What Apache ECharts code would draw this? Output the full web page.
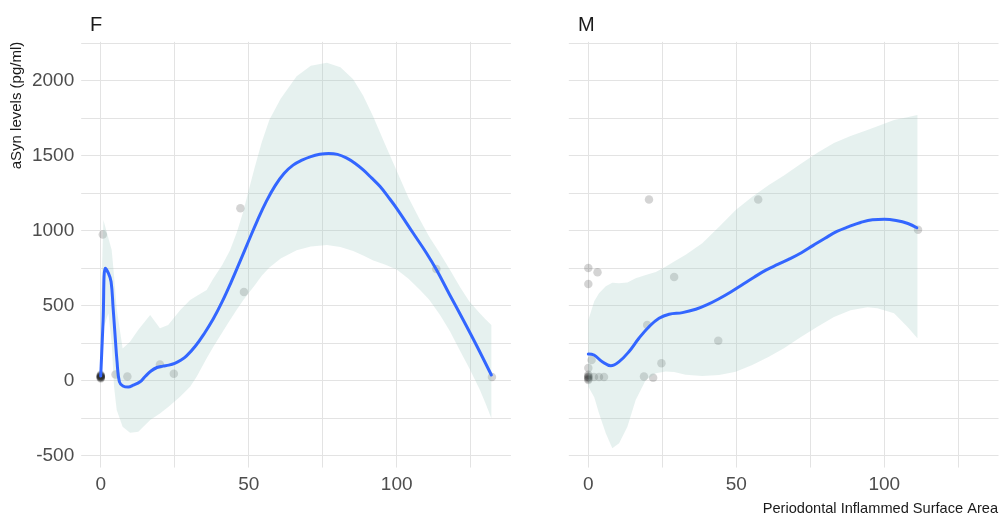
<!DOCTYPE html>
<html><head><meta charset="utf-8">
<script src="https://cdn.jsdelivr.net/npm/echarts@6/dist/echarts.min.js"></script>
<style>html,body{margin:0;padding:0;background:#fff}#c{width:1001px;height:520px}</style>
</head><body><div id="c"></div>
<script>
// ---------- ticks ----------
const xTickLabels = [0, 50, 100];
const xGridValues = [0, 25, 50, 75, 100, 125];
const yTickLabels = [-500, 0, 500, 1000, 1500, 2000];
const yGridValues = [-500, -250, 0, 250, 500, 750, 1000, 1250, 1500, 1750, 2000, 2250];
const panelNames = ['F', 'M'];
const xTitle = 'Periodontal Inflammed Surface Area';
const yTitle = 'aSyn levels (pg/ml)';

// ---------- panel F ----------
const fPointX = [0, 0, 0, 0, 0, 0, 0, 0, 0, 0.7, 5, 9, 20, 24.7, 47.2, 48.4, 113.4, 132.2];
const fPointY = [15, 20, 22, 25, 28, 30, 32, 35, 40, 975, 42, 28, 108, 47, 1149, 591, 744, 25];
const fLineX = [0, 0.8, 1.5, 2.5, 3.5, 4.2, 4.8, 5.5, 6.3, 7.5, 9.3, 11, 13.3, 15, 17, 19, 21, 23, 25, 27, 29, 32, 35, 38, 41, 44, 47, 50, 53, 56, 59, 62, 65, 68, 71, 74, 77, 80, 83, 86, 88.7, 91.5, 94.4, 97.2, 100, 105.6, 110.1, 113.5, 118, 122.5, 127, 132];
const fLineY = [31, 400, 749, 720, 660, 480, 316, 130, -7, -35, -42, -30, -7, 28, 65, 88, 97, 104, 116, 136, 165, 231, 315, 411, 525, 654, 792, 933, 1071, 1197, 1302, 1383, 1437, 1470, 1494, 1509, 1515, 1509, 1485, 1448, 1405, 1352, 1294, 1224, 1149, 983, 850, 738, 570, 405, 235, 38];
const fBandX = [0, 0.9, 2.6, 3.7, 4.5, 5.4, 7.4, 9.9, 12.7, 16.7, 20, 22.8, 26.8, 30.2, 32.4, 35.8, 38, 41, 43.7, 46, 48.2, 50, 52, 54.4, 57, 60.8, 66.2, 71, 76.4, 81, 85.3, 88.7, 92.1, 96, 100, 104, 107.9, 111, 114.6, 118, 121.4, 124.5, 128.1, 130, 132];
const fBandHi = [450, 1071, 950, 871, 700, 480, 215, 260, 340, 438, 349, 371, 470, 538, 565, 605, 680, 770, 870, 990, 1130, 1270, 1420, 1590, 1740, 1880, 2030, 2100, 2120, 2090, 2010, 1900, 1760, 1580, 1400, 1220, 1071, 960, 849, 740, 625, 530, 449, 410, 372];
const fBandLo = [-20, 350, 450, 250, -40, -195, -307, -347, -340, -262, -218, -175, -107, -40, 27, 150, 225, 320, 405, 475, 538, 585, 635, 700, 755, 815, 870, 895, 905, 892, 865, 835, 802, 775, 742, 680, 605, 540, 440, 330, 200, 85, -60, -150, -251];

// ---------- panel M ----------
const mPointX = [0, 0, 0, 0, 0, 0, 1.9, 3.6, 5.3, 0, 3.1, 0, 29, 19.9, 43.9, 24.7, 1.1, 0, 18.8, 21.9, 20.5, 57.4, 111.4];
const mPointY = [5, 12, 20, 25, 30, 40, 25, 25, 25, 752, 723, 645, 692, 371, 267, 117, 138, 84, 28, 20, 1208, 1208, 1007];
const mLineX = [0, 1.9, 4.7, 7.6, 10.4, 13.7, 17.1, 20.5, 23.9, 27.3, 31.8, 36.3, 40, 44, 48, 52, 56, 60, 64, 68, 72, 76, 80, 84, 88, 92, 96, 100, 104, 108, 111];
const mLineY = [178, 171, 127, 100, 127, 193, 283, 360, 416, 443, 454, 476, 505, 545, 590, 640, 690, 737, 775, 812, 853, 902, 950, 995, 1027, 1055, 1073, 1076, 1068, 1048, 1020];
const mBandX = [0, 2, 3.6, 5.9, 8.1, 10.4, 13.2, 16, 19.4, 22.8, 26.1, 29, 32.9, 38.5, 44.2, 49.8, 55.4, 61, 66.1, 71.7, 77.4, 83, 88.6, 94.3, 97.7, 103.3, 107.8, 111.2];
const mBandHi = [405, 530, 583, 630, 653, 650, 655, 683, 705, 725, 760, 795, 840, 916, 1027, 1138, 1227, 1305, 1368, 1445, 1520, 1585, 1632, 1671, 1696, 1738, 1757, 1771];
const mBandLo = [-40, -110, -217, -351, -451, -417, -307, -129, 5, 49, 62, 58, 40, 31, 38, 60, 105, 160, 216, 290, 360, 425, 470, 489, 483, 449, 360, 283];

const SANS = "'Liberation Sans', Arial, Helvetica, sans-serif";
const gridColor = '#e3e3e3';
const bandColor = 'rgba(160, 200, 195, 0.26)';
const lineColor = '#3366FF';

const zip = (a, b) => a.map((v, i) => [v, b[i]]);

function bandSeries(idx, xs, lo, hi) {
  const data = xs.map((x, i) => [x, lo[i], hi[i]]);
  return {
    type: 'custom', xAxisIndex: idx, yAxisIndex: idx, silent: true, z: 3, clip: true,
    data: data, encode: { x: 0, y: [1, 2] },
    renderItem: function (params, api) {
      if (params.dataIndex !== 0) return null;
      const up = data.map(d => api.coord([d[0], d[2]]));
      const dn = data.map(d => api.coord([d[0], d[1]])).reverse();
      return { type: 'polygon', shape: { points: up.concat(dn) }, style: { fill: bandColor } };
    }
  };
}
function pointSeries(idx, xs, ys) {
  return { type: 'scatter', xAxisIndex: idx, yAxisIndex: idx, z: 2, silent: true,
    symbol: 'circle', symbolSize: 8.5, data: zip(xs, ys),
    itemStyle: { color: 'rgba(0,0,0,0.21)' } };
}
function lineSeries(idx, xs, ys) {
  return { type: 'line', xAxisIndex: idx, yAxisIndex: idx, z: 4, silent: true,
    showSymbol: false, smooth: 0.4, data: zip(xs, ys),
    lineStyle: { color: lineColor, width: 3, cap: 'round', join: 'round' } };
}

const grids = [
  { left: 81.2, top: 41.85, width: 429.7, height: 425.7 },
  { left: 568.8, top: 41.85, width: 429.7, height: 425.7 }
];
const xAxes = [0, 1].map(i => ({
  gridIndex: i, type: 'value', min: -6.6, max: 138.6,
  axisLine: { show: false },
  axisTick: { show: false, customValues: xGridValues },
  axisLabel: { customValues: xTickLabels, formatter: v => String(v), color: '#4d4d4d', fontSize: 19, fontFamily: SANS, margin: 8 },
  splitLine: { show: true, lineStyle: { color: gridColor, width: 1 } }
}));
const yAxes = [0, 1].map(i => ({
  gridIndex: i, type: 'value', min: -579, max: 2259,
  axisLine: { show: false },
  axisTick: { show: false, customValues: yGridValues },
  axisLabel: { show: i === 0, customValues: yTickLabels, formatter: v => String(v), color: '#4d4d4d', fontSize: 19, fontFamily: SANS, margin: 7 },
  splitLine: { show: true, lineStyle: { color: gridColor, width: 1 } }
}));

const chart = echarts.init(document.getElementById('c'), null, { renderer: 'canvas' });
chart.setOption({
  animation: false,
  backgroundColor: '#ffffff',
  grid: grids,
  xAxis: xAxes,
  yAxis: yAxes,
  series: [
    pointSeries(0, fPointX, fPointY),
    bandSeries(0, fBandX, fBandLo, fBandHi),
    lineSeries(0, fLineX, fLineY),
    pointSeries(1, mPointX, mPointY),
    bandSeries(1, mBandX, mBandLo, mBandHi),
    lineSeries(1, mLineX, mLineY)
  ],
  graphic: [
    { type: 'text', x: 90, y: 25, style: { text: panelNames[0], fontSize: 20, fontFamily: SANS, fill: '#1a1a1a', verticalAlign: 'middle' } },
    { type: 'text', x: 578, y: 25, style: { text: panelNames[1], fontSize: 20, fontFamily: SANS, fill: '#1a1a1a', verticalAlign: 'middle' } },
    { type: 'text', x: 17, y: 105.5, rotation: Math.PI / 2,
      style: { text: yTitle, fontSize: 15, fontFamily: SANS, fill: '#1a1a1a', align: 'center', verticalAlign: 'middle' } },
    { type: 'text', x: 998, y: 509,
      style: { text: xTitle, fontSize: 14.6, fontFamily: SANS, fill: '#1a1a1a', align: 'right', verticalAlign: 'middle' } }
  ]
});
</script>
</body></html>
